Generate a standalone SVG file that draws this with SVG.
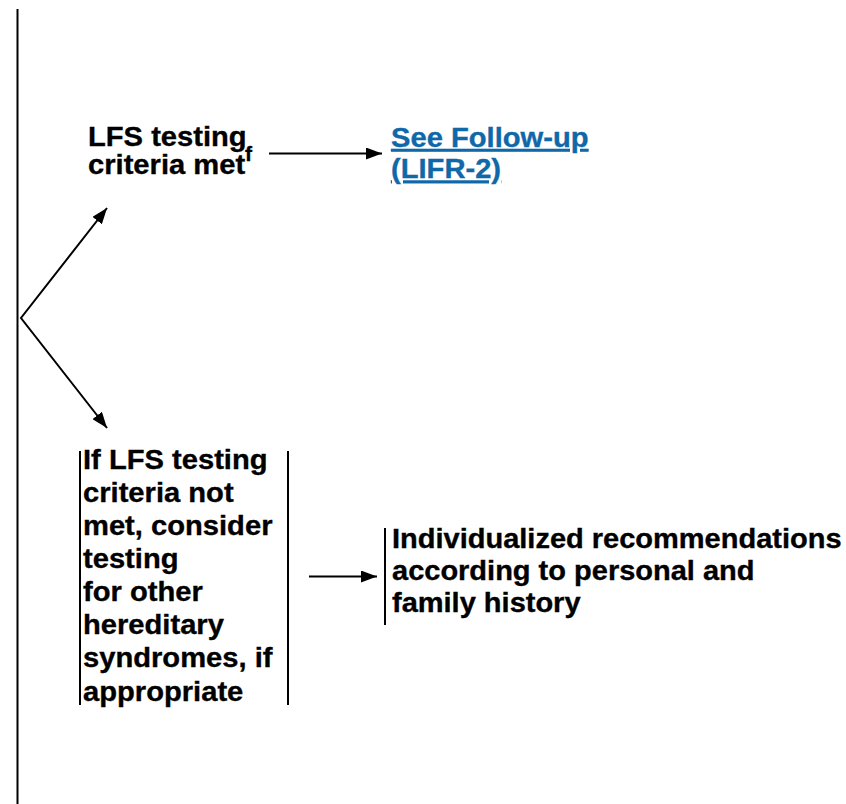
<svg xmlns="http://www.w3.org/2000/svg" width="846" height="804" viewBox="0 0 846 804">
<defs>
<style>
.t{font-family:"Liberation Sans",Arial,sans-serif;font-weight:bold;font-size:27.5px;fill:#000;stroke:#000;stroke-width:0.35px}
.lk{fill:#0f68a8;stroke:#0f68a8;text-decoration:underline}
.ln{stroke:#000;stroke-width:2;fill:none}
.bar{stroke:#000;stroke-width:2;fill:none}
</style>
<marker id="ah" viewBox="0 0 16 12" refX="16" refY="6" markerWidth="16" markerHeight="12" markerUnits="userSpaceOnUse" orient="auto-start-reverse">
<path d="M0,0 L16,6 L0,12 z" fill="#000"/>
</marker>
</defs>
<rect width="846" height="804" fill="#fff"/>
<g id="connectors">
<line class="ln" x1="17.5" y1="9" x2="17.5" y2="804" stroke-width="2.5"/>
<polyline class="ln" points="107,208 21,318 107,428" marker-start="url(#ah)" marker-end="url(#ah)"/>
<line class="ln" x1="269" y1="153.5" x2="382" y2="153.5" marker-end="url(#ah)"/>
<line class="ln" x1="309" y1="576.5" x2="377" y2="576.5" marker-end="url(#ah)"/>
</g>
<g id="lfs-met">
<g transform="translate(88,0) scale(1.06,1)">
<text class="t" x="0" y="146">LFS testing</text>
<text class="t" x="0" y="174">criteria met<tspan font-size="20" dy="-13">f</tspan></text>
</g>
</g>
<g id="follow-up">
<g transform="translate(391,0) scale(1.06,1)">
<text class="t lk" x="0" y="147">See Follow-up</text>
<text class="t lk" x="0" y="178.5">(LIFR-2)</text>
</g>
</g>
<g id="not-met">
<line class="bar" x1="80" y1="451" x2="80" y2="705"/>
<line class="bar" x1="288" y1="451" x2="288" y2="705"/>
<g transform="translate(83,0) scale(1.06,1)">
<text class="t" x="0" y="469">If LFS testing</text>
<text class="t" x="0" y="502">criteria not</text>
<text class="t" x="0" y="535">met, consider</text>
<text class="t" x="0" y="568">testing</text>
<text class="t" x="0" y="601">for other</text>
<text class="t" x="0" y="634">hereditary</text>
<text class="t" x="0" y="667.5">syndromes, if</text>
<text class="t" x="0" y="701">appropriate</text>
</g>
</g>
<g id="individualized">
<line class="bar" x1="385" y1="528" x2="385" y2="625"/>
<g transform="translate(392,0) scale(1.055,1)">
<text class="t" x="0" y="548">Individualized recommendations</text>
<text class="t" x="0" y="580">according to personal and</text>
<text class="t" x="0" y="612">family history</text>
</g>
</g>
</svg>
